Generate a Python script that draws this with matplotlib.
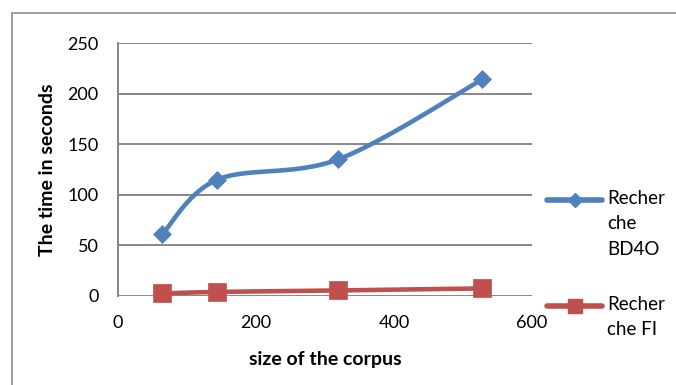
import numpy as np
import matplotlib
matplotlib.use("Agg")
import matplotlib.pyplot as plt
from matplotlib.lines import Line2D
from matplotlib.patches import Rectangle

# data
corpus_size = [64, 144, 319, 528]
time_bd4o = [61, 115, 135, 214]
time_fi = [2.5, 4, 5.5, 7.5]
series_names = ["Recher\nche\nBD4O", "Recher\nche FI"]
x_ticks = [0, 200, 400, 600]
y_ticks = [0, 50, 100, 150, 200, 250]

BLUE = "#4F81BD"
RED = "#C0504D"
GRID = "#878787"

plt.rcParams['font.family'] = ['Lato', 'DejaVu Sans']


def smooth(xs, ys, n=40):
    # excel-style smoothed line: bezier with catmull-rom control points
    p = np.column_stack([xs, ys]).astype(float)
    out = []
    for i in range(len(p) - 1):
        p0 = p[i - 1] if i > 0 else p[i]
        p1, p2 = p[i], p[i + 1]
        p3 = p[i + 2] if i + 2 < len(p) else p[i + 1]
        c1 = p1 + (p2 - p0) / 6
        c2 = p2 - (p3 - p1) / 6
        t = np.linspace(0, 1, n)[:, None]
        seg = (1 - t)**3 * p1 + 3 * (1 - t)**2 * t * c1 + 3 * (1 - t) * t**2 * c2 + t**3 * p2
        out.append(seg if i == 0 else seg[1:])
    s = np.vstack(out)
    return s[:, 0], s[:, 1]


fig = plt.figure(figsize=(6.76, 3.85), dpi=100)
ax = fig.add_axes([118/676, 1 - 296/385, 414/676, 253/385])

# outer chart frame
fig.add_artist(Rectangle((12/676, -0.1), 1.2, 1 - 13/385 + 0.1, transform=fig.transFigure,
                         fill=False, edgecolor="#8c8c8c", lw=1.2))

sx, sy = smooth(corpus_size, time_bd4o)
ax.plot(sx, sy, color=BLUE, lw=3.3, solid_capstyle="round", zorder=3)
ax.plot(corpus_size, time_bd4o, ls="none", marker="D", ms=9.5, color=BLUE,
        mec=BLUE, mew=0.5, zorder=4)
sx, sy = smooth(corpus_size, time_fi)
ax.plot(sx, sy, color=RED, lw=3.3, solid_capstyle="round", zorder=3)
ax.plot(corpus_size, time_fi, ls="none", marker="s", ms=13.5, color=RED,
        mec=RED, mew=0.5, zorder=4)

ax.set_xlim(0, 600)
ax.set_ylim(0, 250)
ax.set_xticks(x_ticks)
ax.set_yticks(y_ticks)
ax.tick_params(length=0, labelsize=13, colors="black")
ax.tick_params(axis="x", pad=14)
ax.tick_params(axis="y", pad=14)
ax.yaxis.grid(True, color=GRID, lw=1.4)
ax.set_axisbelow(True)
for side in ["top", "right"]:
    ax.spines[side].set_visible(False)
ax.spines["bottom"].set_visible(False)
ax.spines["left"].set_color(GRID)
ax.spines["left"].set_linewidth(1.4)
for ln in ax.get_lines():
    ln.set_clip_on(False)

ax.set_xlabel("size of the corpus", fontsize=14, fontweight="bold", labelpad=14)
ax.set_ylabel("The time in seconds", fontsize=14, fontweight="bold", labelpad=8)

# legend drawn by hand so the handle sits on the first text line
leg_y = [1 - 200/385, 1 - 306/385]
for (name, col, mk, msz, y) in zip(series_names, [BLUE, RED], ["D", "s"], [7, 10.5], leg_y):
    fig.add_artist(Line2D([547/676, 575/676, 602/676], [y, y, y], transform=fig.transFigure,
                          color=col, lw=4, marker=mk, ms=msz, markevery=[1],
                          solid_capstyle="round"))
    fig.text(607/676, y + 10/385, name, fontsize=13.5, va="top", ha="left",
             linespacing=1.6, transform=fig.transFigure)

fig.savefig("out.png", dpi=100)
